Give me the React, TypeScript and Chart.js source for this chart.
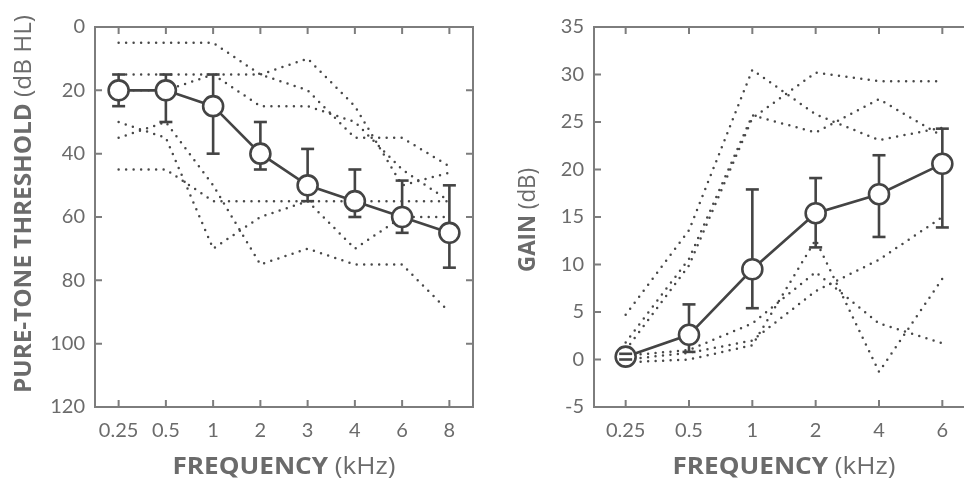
import React, { useEffect, useRef } from "react";
import { Chart, registerables } from "chart.js";

Chart.register(...registerables);

// ---------- Left panel: pure-tone thresholds ----------
const freqLeft = ["0.25", "0.5", "1", "2", "3", "4", "6", "8"];
const thrMean = [20, 20, 25, 40, 50, 55, 60, 65];
const thrErrTop = [15, 15, 15, 30, 38.5, 45, 48.5, 50];
const thrErrBottom = [25, 30, 40, 45, 55, 60, 65, 76];
const thrS1 = [5, 5, 5, 15, 20, 35, 35, 44];
const thrS2 = [15, 15, 15, 15, 10, 25, 50, 46];
const thrS3 = [20, 20, 15, 25, 25, 30, 45, 55];
const thrS4 = [45, 45, 55, 55, 55, 55, 55, 55];
const thrS5 = [30, 35, 70, 60, 55, 70, 60, 60];
const thrS6 = [35, 30, 50, 75, 70, 75, 75, 90];
const thrAxis = { min: 0, max: 120, step: 20 };

// ---------- Right panel: gain ----------
const freqRight = ["0.25", "0.5", "1", "2", "4", "6"];
const gainMean = [0.3, 2.6, 9.5, 15.4, 17.4, 20.6];
const gainErrLow = [0.0, 0.8, 5.4, 11.8, 12.9, 13.9];
const gainErrHigh = [0.6, 5.8, 17.9, 19.1, 21.5, 24.3];
const gainS1 = [4.7, 13.6, 30.5, 25.8, 23.1, 24.4];
const gainS2 = [1.8, 10.6, 25.7, 23.9, 27.4, 23.5];
const gainS3 = [1.0, 9.9, 25.4, 30.2, 29.3, 29.3];
const gainS4 = [-0.3, 0.0, 1.5, 12.6, -1.3, 8.5];
const gainS5 = [0.0, 0.7, 2.0, 7.2, 10.5, 15.0];
const gainS6 = [0.4, 1.0, 3.8, 9.2, 3.8, 1.7];
const gainAxis = { min: -5, max: 35, step: 5 };

const TICK_FONT = "Lato, 'Open Sans', sans-serif";
const TITLE_FONT = "'Open Sans', Lato, sans-serif";
const TEXT = "#6b6b6b";
const FRAME = "#7d7d7d";
const DATA = "#444444";
const DOTS = "#484848";

type Part = { text: string; bold: boolean };

const framePlugin = {
  id: "frame",
  beforeDatasetsDraw(chart: any) {
    const { ctx, chartArea: a, scales } = chart;
    ctx.save();
    ctx.strokeStyle = FRAME;
    ctx.lineWidth = 2;
    ctx.strokeRect(a.left, a.top, a.right - a.left, a.bottom - a.top);
    const len = 7;
    const xs = scales.x;
    xs.ticks.forEach((_t: any, i: number) => {
      const px = xs.getPixelForTick(i);
      ctx.beginPath();
      ctx.moveTo(px, a.bottom);
      ctx.lineTo(px, a.bottom - len);
      ctx.moveTo(px, a.top);
      ctx.lineTo(px, a.top + len);
      ctx.stroke();
    });
    const ys = scales.y;
    ys.ticks.forEach((_t: any, i: number) => {
      const py = ys.getPixelForTick(i);
      ctx.beginPath();
      ctx.moveTo(a.left, py);
      ctx.lineTo(a.left + len, py);
      ctx.moveTo(a.right, py);
      ctx.lineTo(a.right - len, py);
      ctx.stroke();
    });
    ctx.restore();
  },
};

const errorBarPlugin = {
  id: "errbars",
  beforeDatasetDraw(chart: any, args: any, opts: any) {
    if (args.index !== 0) return;
    const { ctx, scales } = chart;
    ctx.save();
    ctx.strokeStyle = DATA;
    ctx.lineWidth = 2.6;
    opts.low.forEach((lo: number, i: number) => {
      const x = scales.x.getPixelForValue(i);
      ctx.beginPath();
      ctx.moveTo(x, scales.y.getPixelForValue(lo));
      ctx.lineTo(x, scales.y.getPixelForValue(opts.high[i]));
      ctx.stroke();
    });
    ctx.restore();
  },
  afterDatasetsDraw(chart: any, _args: any, opts: any) {
    const { ctx, scales } = chart;
    ctx.save();
    ctx.strokeStyle = DATA;
    ctx.lineWidth = 2.6;
    const w = 6.5;
    opts.low.forEach((lo: number, i: number) => {
      const x = scales.x.getPixelForValue(i);
      [lo, opts.high[i]].forEach((v: number) => {
        const y = scales.y.getPixelForValue(v);
        ctx.beginPath();
        ctx.moveTo(x - w, y);
        ctx.lineTo(x + w, y);
        ctx.stroke();
      });
    });
    ctx.restore();
  },
};

const titlePlugin = {
  id: "titles",
  afterDraw(chart: any, _args: any, opts: any) {
    const { ctx, chartArea: a } = chart;
    const size = opts.size;
    const draw = (parts: Part[], length: number, cx: number, cy: number, rot: number) => {
      ctx.save();
      ctx.translate(cx, cy);
      ctx.rotate(rot);
      ctx.textBaseline = "middle";
      ctx.textAlign = "left";
      ctx.fillStyle = TEXT;
      const widths = parts.map((p) => {
        ctx.font = `${p.bold ? "bold " : ""}${size}px ${TITLE_FONT}`;
        return ctx.measureText(p.text).width;
      });
      const total = widths.reduce((s, v) => s + v, 0);
      ctx.scale(length / total, 1);
      let x = -total / 2;
      parts.forEach((p, i) => {
        ctx.font = `${p.bold ? "bold " : ""}${size}px ${TITLE_FONT}`;
        ctx.fillText(p.text, x, 0);
        x += widths[i];
      });
      ctx.restore();
    };
    draw(opts.x, opts.xLength, (a.left + a.right) / 2, opts.xTitleY, 0);
    draw(opts.y, opts.yLength, opts.yTitleX, (a.top + a.bottom) / 2 + opts.yShift, -Math.PI / 2);
  },
};

type PanelProps = {
  labels: string[];
  mean: number[];
  low: number[];
  high: number[];
  subjects: number[][];
  axis: { min: number; max: number; step: number };
  reverse: boolean;
  yTitle: Part[];
  yLength: number;
  yShift: number;
  yTitleX: number;
  yAxisWidth: number;
  padRight: number;
};

function Panel(p: PanelProps) {
  const ref = useRef<HTMLCanvasElement>(null);
  useEffect(() => {
    if (!ref.current) return;
    const tickFont = { family: TICK_FONT, size: 20 };
    const chart = new Chart(ref.current, {
      type: "line",
      data: {
        labels: p.labels,
        datasets: [
          {
            data: p.mean,
            borderColor: DATA,
            borderWidth: 2.6,
            pointRadius: 10,
            pointHoverRadius: 10,
            pointBorderWidth: 2.6,
            pointBackgroundColor: "#ffffff",
            pointBorderColor: DATA,
            tension: 0,
          },
          ...p.subjects.map((s) => ({
            data: s,
            borderColor: DOTS,
            borderWidth: 2.5,
            borderDash: [0, 7.5],
            borderCapStyle: "round" as const,
            pointRadius: 0,
            tension: 0,
          })),
        ],
      },
      options: {
        responsive: false,
        animation: false,
        devicePixelRatio: 1,
        layout: { padding: { top: 27, right: p.padRight, left: 0, bottom: 0 } },
        plugins: {
          legend: { display: false },
          tooltip: { enabled: false },
          errbars: { low: p.low, high: p.high },
          titles: {
            size: 23,
            x: [
              { text: "FREQUENCY", bold: true },
              { text: " (kHz)", bold: false },
            ],
            xLength: 223,
            y: p.yTitle,
            yLength: p.yLength,
            yShift: p.yShift,
            xTitleY: 467,
            yTitleX: p.yTitleX,
          },
        } as any,
        scales: {
          x: {
            type: "category",
            offset: true,
            grid: { display: false, drawTicks: false },
            border: { display: false },
            ticks: { font: tickFont, color: TEXT, padding: 12, maxRotation: 0, autoSkip: false },
            afterFit: (s: any) => {
              s.height = 74;
            },
          },
          y: {
            min: p.axis.min,
            max: p.axis.max,
            reverse: p.reverse,
            grid: { display: false, drawTicks: false },
            border: { display: false },
            ticks: { stepSize: p.axis.step, font: tickFont, color: TEXT, padding: 10 },
            afterFit: (s: any) => {
              s.width = p.yAxisWidth;
            },
          },
        },
      },
      plugins: [framePlugin, errorBarPlugin, titlePlugin],
    });
    return () => chart.destroy();
  }, []);
  return <canvas ref={ref} width={500} height={481} style={{ display: "block" }} />;
}

export default function App() {
  return (
    <div
      style={{
        position: "fixed",
        left: 0,
        top: 0,
        width: 964,
        height: 481,
        overflow: "hidden",
        background: "#ffffff",
      }}
    >
      <div style={{ position: "absolute", left: 0, top: 0, width: 500, height: 481 }}>
        <Panel
          labels={freqLeft}
          mean={thrMean}
          low={thrErrTop}
          high={thrErrBottom}
          subjects={[thrS1, thrS2, thrS3, thrS4, thrS5, thrS6]}
          axis={thrAxis}
          reverse={true}
          yTitle={[
            { text: "PURE-TONE THRESHOLD", bold: true },
            { text: " (dB HL)", bold: false },
          ]}
          yLength={378}
          yShift={-13}
          yTitleX={24}
          yAxisWidth={95}
          padRight={27}
        />
      </div>
      <div style={{ position: "absolute", left: 490, top: 0, width: 500, height: 481 }}>
        <Panel
          labels={freqRight}
          mean={gainMean}
          low={gainErrLow}
          high={gainErrHigh}
          subjects={[gainS1, gainS2, gainS3, gainS4, gainS5, gainS6]}
          axis={gainAxis}
          reverse={false}
          yTitle={[
            { text: "GAIN", bold: true },
            { text: " (dB)", bold: false },
          ]}
          yLength={104}
          yShift={3}
          yTitleX={38}
          yAxisWidth={104}
          padRight={16}
        />
      </div>
    </div>
  );
}
